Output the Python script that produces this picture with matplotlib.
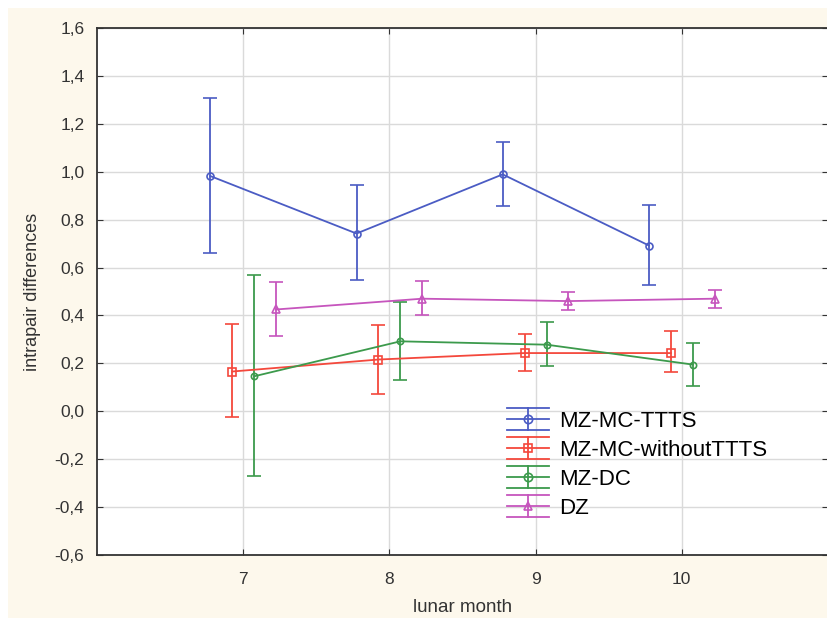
"""Intrapair differences by lunar month, four twin groups, with error bars."""

import matplotlib
matplotlib.use("Agg")
import matplotlib.pyplot as plt
from matplotlib.lines import Line2D
from matplotlib.legend_handler import HandlerBase
from matplotlib.patches import Rectangle
from matplotlib.ticker import FuncFormatter, MultipleLocator

plt.rcParams["font.family"] = ["Liberation Sans", "DejaVu Sans"]

months = [7, 8, 9, 10]
series = ["MZ-MC-TTTS", "MZ-MC-withoutTTTS", "MZ-DC", "DZ"]
offsets = [-0.225, -0.075, 0.075, 0.225]

ttts_mean = [0.982, 0.742, 0.989, 0.692]
ttts_low = [0.662, 0.546, 0.856, 0.529]
ttts_high = [1.306, 0.946, 1.124, 0.862]

nottts_mean = [0.166, 0.216, 0.243, 0.243]
nottts_low = [-0.025, 0.074, 0.167, 0.163]
nottts_high = [0.366, 0.359, 0.324, 0.337]

dc_mean = [0.146, 0.292, 0.278, 0.195]
dc_low = [-0.271, 0.129, 0.189, 0.107]
dc_high = [0.568, 0.455, 0.372, 0.285]

dz_mean = [0.425, 0.470, 0.460, 0.470]
dz_low = [0.313, 0.401, 0.423, 0.433]
dz_high = [0.539, 0.544, 0.499, 0.506]

means = [ttts_mean, nottts_mean, dc_mean, dz_mean]
lows = [ttts_low, nottts_low, dc_low, dz_low]
highs = [ttts_high, nottts_high, dc_high, dz_high]
colors = ["#4b5cc4", "#f4483c", "#3c9a4c", "#c655bd"]
markers = ["o", "s", "o", "^"]
msizes = [5, 5.5, 4.5, 5.5]


class ErrorbarKey(HandlerBase):
    """Legend key: line with marker, short vertical bar and full-width caps."""

    def create_artists(self, legend, orig_handle, xdescent, ydescent,
                       width, height, fontsize, trans):
        c = orig_handle.get_color()
        yc = height / 2 - ydescent
        half = 0.5 * fontsize
        x0, x1 = -xdescent, width - xdescent
        xm = (x0 + x1) / 2
        kw = dict(color=c, linewidth=1.3, transform=trans)
        arts = [
            Line2D([x0, x1], [yc, yc], **kw),
            Line2D([xm, xm], [yc - half, yc + half], **kw),
            Line2D([x0, x1], [yc - half, yc - half], **kw),
            Line2D([x0, x1], [yc + half, yc + half], **kw),
            Line2D([xm], [yc], marker=orig_handle.get_marker(), markersize=6,
                   markerfacecolor="none", markeredgecolor=c,
                   markeredgewidth=1.2, linestyle="none", transform=trans),
        ]
        return arts


fig = plt.figure(figsize=(8.28, 6.25), dpi=100)
fig.patches.append(Rectangle((8 / 828, 7 / 625), 1 - 8 / 828, 1 - 15 / 625,
                             transform=fig.transFigure, facecolor="#fdf8ec",
                             edgecolor="none", zorder=-10))
ax = fig.add_axes([97 / 828, 70 / 625, 731 / 828, 527 / 625])
ax.set_facecolor("white")

keys = []
for name, m, lo, hi, c, mk, ms, off in zip(series, means, lows, highs,
                                             colors, markers, msizes, offsets):
    x = [mo + off for mo in months]
    err = [[a - b for a, b in zip(m, lo)], [b - a for a, b in zip(m, hi)]]
    ax.errorbar(x, m, yerr=err, color=c, marker=mk, markersize=ms,
                markerfacecolor="none", markeredgewidth=1.2, linewidth=1.3,
                elinewidth=1.3, capsize=5, capthick=1.3, zorder=3)
    keys.append(Line2D([], [], color=c, marker=mk, label=name))

ax.set_xlim(6, 11)
ax.set_ylim(-0.6, 1.6)
ax.set_xticks(months)
ax.yaxis.set_major_locator(MultipleLocator(0.2))
ax.yaxis.set_major_formatter(FuncFormatter(lambda v, p: f"{v:.1f}".replace(".", ",")))
ax.grid(True, color="#dadada", linewidth=1)
ax.set_axisbelow(True)
ax.tick_params(direction="in", length=4, top=True, right=True,
               labelsize=12.5, colors="#333333", labelcolor="#333333")
ax.tick_params(axis="y", pad=9)
ax.tick_params(axis="x", pad=12)
for side in ["left", "bottom", "top"]:
    ax.spines[side].set_color("#333333")
    ax.spines[side].set_linewidth(1.3)
ax.spines["right"].set_color("#bbbbbb")

ax.set_xlabel("lunar month", fontsize=13.5, color="#333333", labelpad=9)
ax.set_ylabel("intrapair differences", fontsize=13, color="#333333", labelpad=10)

ax.legend(handles=keys, handler_map={Line2D: ErrorbarKey()},
          loc="upper left", bbox_to_anchor=(507 / 828, 1 - 411 / 625),
          bbox_transform=fig.transFigure, frameon=False, fontsize=16,
          handlelength=1.9, handletextpad=0.45, labelspacing=0.36,
          borderaxespad=0, borderpad=0)

fig.savefig("out.png", dpi=100, facecolor="white")
